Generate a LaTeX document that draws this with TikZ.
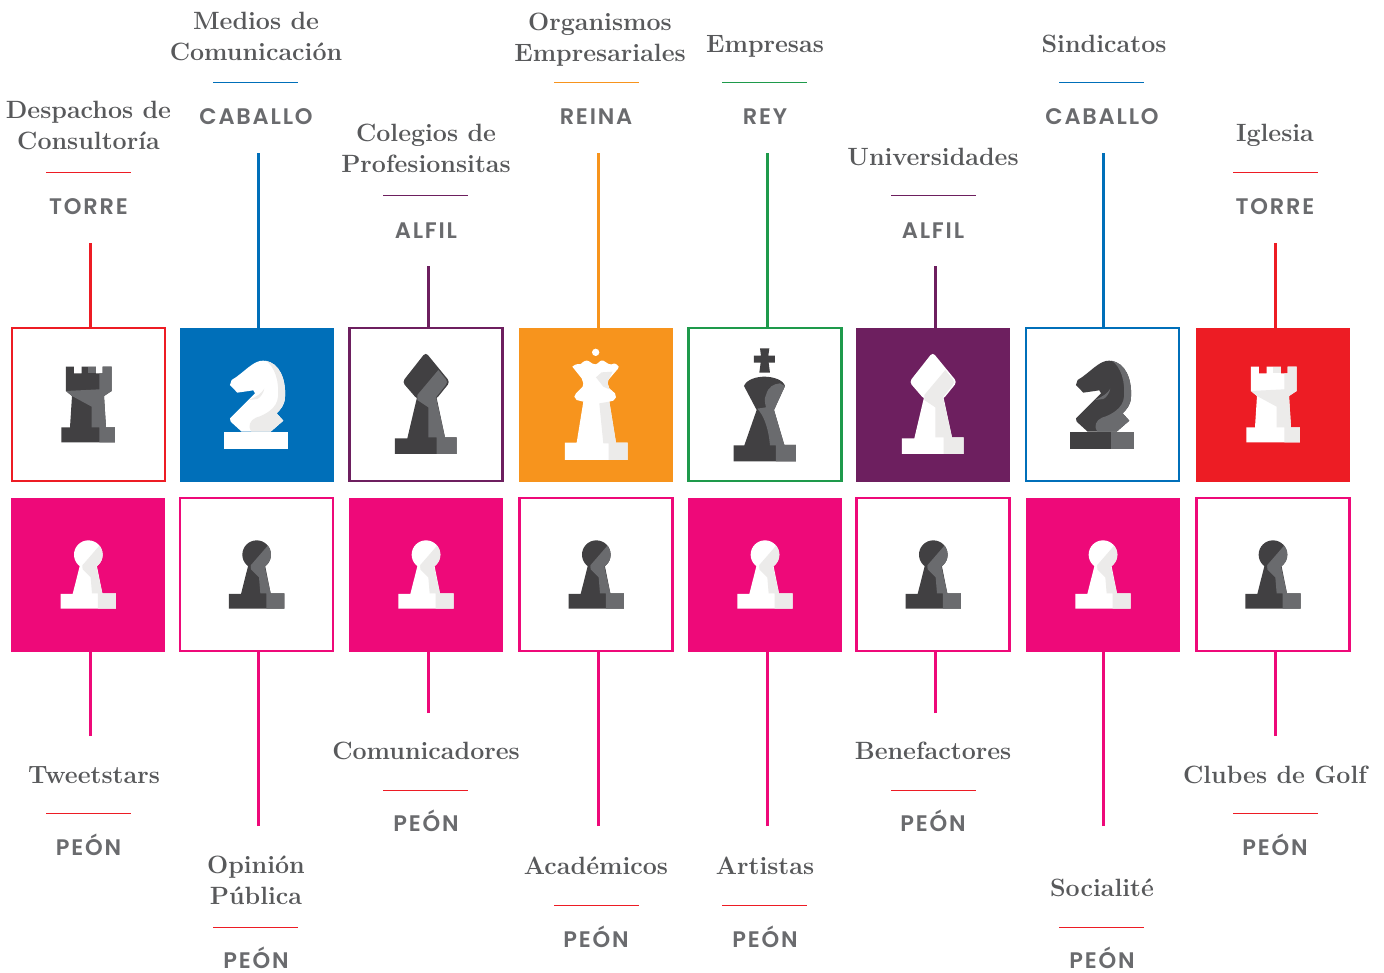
\documentclass[tikz,border=0pt]{standalone}
\usepackage{fontspec}
\setsansfont{Poppins}[LetterSpace=8,BoldFont={Poppins SemiBold}]
\definecolor{cred}{HTML}{ED1C24}
\definecolor{cblue}{HTML}{006FB9}
\definecolor{cpurple}{HTML}{6D1F5F}
\definecolor{corange}{HTML}{F7941D}
\definecolor{cgreen}{HTML}{1E9A4B}
\definecolor{cpink}{HTML}{EE0979}
\definecolor{dkmain}{HTML}{414042}
\definecolor{dkshade}{HTML}{6A6B6E}
\definecolor{wtmain}{HTML}{FFFFFF}
\definecolor{wtshade}{HTML}{ECEBEA}
\definecolor{titlegray}{HTML}{58595B}
\definecolor{rolegray}{HTML}{6A6B6E}
\tikzset{
  x=1pt,y=-1pt,
  outlinebox/.style={draw=#1,line width=2.4pt,fill=white,minimum size=153pt,inner sep=0pt},
  solidbox/.style={fill=#1,minimum size=154pt,inner sep=0pt},
  conn/.style={draw=#1,line width=2.6pt},
  rule/.style={draw=#1,line width=0.9pt},
  titletext/.style={font=\bfseries\fontsize{25}{31}\selectfont,text=titlegray,align=center,inner sep=0pt},
  roletext/.style={anchor=base,font=\sffamily\bfseries\fontsize{22.5}{24}\selectfont,text=rolegray,inner sep=0pt},
  piece/.style={x=.33333pt,y=-.33333pt,shift={#1}}
}
\newcommand\rookpiece[4]{\begin{scope}[piece={(#1,#2)}]
\fill[#3] (198,170)--(222,170)--(222,190)--(245,190)--(245,170)--(288,170)--(288,190)--(308,190)--(308,170)--(335,170)--(335,243)--(312,258)--(318,352)--(345,352)--(345,397)--(184,397)--(184,352)--(210,352)--(216,258)--(198,243)--cycle;
\fill[#4] (265,170)--(288,170)--(288,190)--(265,190)--cycle;
\fill[#4] (298,190)--(308,190)--(308,170)--(335,170)--(335,243)--(312,258)--(318,352)--(345,352)--(345,397)--(298,397)--(298,352)--(275,352)--(275,290)--(216,258)--(198,243)--(298,238)--cycle;
\end{scope}}
% #5 colour of the right part of the base
\newcommand\knightpiece[5]{\begin{scope}[piece={(#1,#2)}]
\fill[#3] (673,365)--(863,365)--(863,416)--(673,416)--cycle;
\fill[#5] (794,365)--(863,365)--(863,416)--(794,416)--cycle;
\fill[#3] (695,210)..controls (730,190) and (760,150) .. (790,152) ..controls (840,155) and (858,210) .. (855,260) ..controls (855,285) and (840,300) .. (830,310) --(850,332)--(812,365)--(725,365)--(692,335)--(690,325)--(765,250)--(760,241)--(712,248)--(690,225)--cycle;
\fill[#4] (797,152) ..controls (825,170) and (838,215) .. (834,260) ..controls (832,295) and (795,315) .. (768,323) ..controls (750,330) and (742,350) .. (754,365) --(812,365)--(850,332)--(830,310)..controls (840,300) and (855,285) .. (855,260) ..controls (858,210) and (840,160) .. (797,152)--cycle;
\fill[#4] (747,270) ..controls (770,260) and (785,250) .. (793,236) ..controls (790,250) and (782,262) .. (772,267)--cycle;
\end{scope}}
\newcommand\bishoppiece[4]{\begin{scope}[piece={(#1,#2)}]
\fill[#3,rounded corners=3.5pt] (257,97)--(330,186)--(288,238)--(232,238)--(187,186)--cycle;
\fill[#3] (288,225)--(315,352)--(350,352)--(350,402)--(165,402)--(165,355)--(202,355)--(232,228)--cycle;
\fill[#4] (295,150)--(318,178)--(321,186)--(318,194)--(288,232)--(315,352)--(350,352)--(350,402)--(290,402)--(290,352)--(265,352)--(265,262)--(232,240)--(232,225)--cycle;
\end{scope}}
\newcommand\queenpiece[4]{\begin{scope}[piece={(#1,#2)}]
\fill[#3] (767,97) circle[radius=11];
\fill[#3] (697,140)..controls (710,128) and (715,135) .. (722,132) ..controls (730,125) and (738,118) .. (747,124) ..controls (755,130) and (760,133) .. (767,133) ..controls (775,132) and (780,118) .. (790,122) ..controls (798,125) and (805,135) .. (815,133) ..controls (825,128) and (830,132) .. (836,140) --(834,146)--(805,180)--(803,190)--(808,205)--(825,220)--(828,232)--(820,242)--(808,245)--(828,368)--(863,368)--(863,420)--(675,420)--(675,368)--(710,368)--(730,245)--(710,240)--(703,230)--(708,220)--(728,200)--(730,190)--(725,175)--cycle;
\fill[#4] (768,172)--(785,157)--(818,155)--(805,180)--(803,190)--(808,208)--(790,200)--cycle;
\fill[#4] (778,250)--(808,245)--(828,368)--(863,368)--(863,420)--(806,420)--(806,370)--(790,370)--cycle;
\end{scope}}
\newcommand\kingpiece[4]{\begin{scope}[piece={(#1,#2)}]
\fill[#3] (240,85)--(268,85)--(265,107)--(285,107)--(285,128)--(266,128)--(270,158)--(238,158)--(242,128)--(222,128)--(222,107)--(243,107)--cycle;
\fill[#3] (192,198) ..controls (200,178) and (230,170) .. (253,170) ..controls (280,170) and (310,180) .. (315,198) --(282,270)--(313,375)--(348,375)--(348,424)--(161,424)--(161,376)--(193,376)--(230,270)--cycle;
\fill[#4] (300,190)--(315,198)--(282,270)--(313,375)--(348,375)--(348,424)--(288,424)--(288,376)--(270,376) ..controls (265,320) and (250,285) .. (232,266) --(258,262) ..controls (255,250) and (252,235) .. (258,225) ..controls (265,200) and (280,192) .. (300,190)--cycle;
\end{scope}}
\newcommand\pawnpiece[4]{\begin{scope}[piece={(#1,#2)}]
\fill[#3] (265,194) circle[radius=43];
\fill[#3] (240,225)--(290,225)--(307,310)--(348,310)--(348,356)--(182,356)--(182,312)--(218,312)--cycle;
\begin{scope}
\clip (300,165)--(320,165)--(320,240)--(248,240)--(248,225)--cycle;
\fill[#4] (265,194) circle[radius=43];
\end{scope}
\fill[#4] (248,225)--(288,225)--(307,310)--(348,310)--(348,356)--(294,356)--(294,310)--(276,310)--(272,262)--(248,238)--cycle;
\end{scope}}
\begin{document}
\begin{tikzpicture}
\useasboundingbox (0,0) rectangle (1384,972);
\fill[white] (0,0) rectangle (1384,972);
% top row boxes
\node[outlinebox=cred] (b1) at (88.2,404.7) {};
\node[solidbox=cblue] (b2) at (257,405) {};
\node[outlinebox=cpurple] (b3) at (425.8,404.7) {};
\node[solidbox=corange] (b4) at (596,405) {};
\node[outlinebox=cgreen] (b5) at (764.8,404.7) {};
\node[solidbox=cpurple] (b6) at (933,405) {};
\node[outlinebox=cblue] (b7) at (1102.3,404.7) {};
\node[solidbox=cred] (b8) at (1273,405) {};
% bottom row boxes
\node[solidbox=cpink] (p1) at (88,575) {};
\node[outlinebox=cpink] (p2) at (256.3,574.7) {};
\node[solidbox=cpink] (p3) at (426,575) {};
\node[outlinebox=cpink] (p4) at (596,574.7) {};
\node[solidbox=cpink] (p5) at (765,575) {};
\node[outlinebox=cpink] (p6) at (933,574.7) {};
\node[solidbox=cpink] (p7) at (1103,575) {};
\node[outlinebox=cpink] (p8) at (1273,574.7) {};
% pieces
\rookpiece{0}{930}{dkmain}{dkshade}
\knightpiece{0}{930}{wtmain}{wtshade}{wtmain}
\bishoppiece{1020}{960}{dkmain}{dkshade}
\queenpiece{1020}{960}{wtmain}{wtshade}
\kingpiece{2040}{960}{dkmain}{dkshade}
\bishoppiece{2541}{960}{wtmain}{wtshade}
\knightpiece{2538}{930}{dkmain}{dkshade}{dkshade}
\rookpiece{3555}{930}{wtmain}{wtshade}
\pawnpiece{0}{1470}{wtmain}{wtshade}
\pawnpiece{505}{1470}{dkmain}{dkshade}
\pawnpiece{1013}{1470}{wtmain}{wtshade}
\pawnpiece{1524}{1470}{dkmain}{dkshade}
\pawnpiece{2030}{1470}{wtmain}{wtshade}
\pawnpiece{2535}{1470}{dkmain}{dkshade}
\pawnpiece{3044}{1470}{wtmain}{wtshade}
\pawnpiece{3554}{1470}{dkmain}{dkshade}
% connector ends
\coordinate (t1) at (90.5,243);
\coordinate (t2) at (258.5,153);
\coordinate (t3) at (428.5,266);
\coordinate (t4) at (598.5,153);
\coordinate (t5) at (767.5,153);
\coordinate (t6) at (935.5,266);
\coordinate (t7) at (1103.5,153);
\coordinate (t8) at (1275.5,243);
\coordinate (u1) at (90.5,736);
\coordinate (u2) at (258.5,826);
\coordinate (u3) at (428.5,713);
\coordinate (u4) at (598.5,826);
\coordinate (u5) at (767.5,826);
\coordinate (u6) at (935.5,713);
\coordinate (u7) at (1103.5,826);
\coordinate (u8) at (1275.5,736);
\draw[conn=cred] (t1) -- (t1 |- b1.north);
\draw[conn=cblue] (t2) -- (t2 |- b2.north);
\draw[conn=cpurple] (t3) -- (t3 |- b3.north);
\draw[conn=corange] (t4) -- (t4 |- b4.north);
\draw[conn=cgreen] (t5) -- (t5 |- b5.north);
\draw[conn=cpurple] (t6) -- (t6 |- b6.north);
\draw[conn=cblue] (t7) -- (t7 |- b7.north);
\draw[conn=cred] (t8) -- (t8 |- b8.north);
\draw[conn=cpink] (u1) -- (u1 |- p1.south);
\draw[conn=cpink] (u2) -- (u2 |- p2.south);
\draw[conn=cpink] (u3) -- (u3 |- p3.south);
\draw[conn=cpink] (u4) -- (u4 |- p4.south);
\draw[conn=cpink] (u5) -- (u5 |- p5.south);
\draw[conn=cpink] (u6) -- (u6 |- p6.south);
\draw[conn=cpink] (u7) -- (u7 |- p7.south);
\draw[conn=cpink] (u8) -- (u8 |- p8.south);
% titles
\node[titletext] (n1) at (88.5,128) {\strut Despachos de\\\strut Consultoría};
\node[titletext] (n2) at (256,38.3) {\strut Medios de\\\strut Comunicación};
\node[titletext] (n3) at (426,151) {\strut Colegios de\\\strut Profesionsitas};
\node[titletext] (n4) at (600,40) {\strut Organismos\\\strut Empresariales};
\node[titletext] (n5) at (765,46.5) {\strut Empresas};
\node[titletext] (n6) at (933,159.5) {\strut Universidades};
\node[titletext] (n7) at (1104,46.5) {\strut Sindicatos};
\node[titletext] (n8) at (1275,135.5) {\strut Iglesia};
\node[titletext] (m1) at (94,777) {\strut Tweetstars};
\node[titletext] (m2) at (256,882.5) {\strut Opinión\\\strut Pública};
\node[titletext] (m3) at (426,753) {\strut Comunicadores};
\node[titletext] (m4) at (596,868.7) {\strut Académicos};
\node[titletext] (m5) at (765,868.7) {\strut Artistas};
\node[titletext] (m6) at (933,753) {\strut Benefactores};
\node[titletext] (m7) at (1102,890.4) {\strut Socialité};
\node[titletext] (m8) at (1275,777.7) {\strut Clubes de Golf};
% rules
\draw[rule=cred] (46,172.5) -- (131,172.5);
\draw[rule=cblue] (213,82.5) -- (298,82.5);
\draw[rule=cpurple] (383,195.5) -- (468,195.5);
\draw[rule=corange] (554,82.5) -- (639,82.5);
\draw[rule=cgreen] (722,82.5) -- (807,82.5);
\draw[rule=cpurple] (891,195.5) -- (976,195.5);
\draw[rule=cblue] (1059,82.5) -- (1144,82.5);
\draw[rule=cred] (1233,172.5) -- (1318,172.5);
\draw[rule=cred] (46,813.5) -- (131,813.5);
\draw[rule=cred] (213,927.5) -- (298,927.5);
\draw[rule=cred] (383,790.5) -- (468,790.5);
\draw[rule=cred] (554,905.5) -- (639,905.5);
\draw[rule=cred] (722,905.5) -- (807,905.5);
\draw[rule=cred] (891,790.5) -- (976,790.5);
\draw[rule=cred] (1059,927.5) -- (1144,927.5);
\draw[rule=cred] (1233,813.5) -- (1318,813.5);
% roles
\node[roletext] (r1) at (88.5,214) {TORRE};
\node[roletext] (r2) at (256,124) {CABALLO};
\node[roletext] (r3) at (426,238) {ALFIL};
\node[roletext] (r4) at (596,124) {REINA};
\node[roletext] (r5) at (765,124) {REY};
\node[roletext] (r6) at (933,238) {ALFIL};
\node[roletext] (r7) at (1102,124) {CABALLO};
\node[roletext] (r8) at (1275,214) {TORRE};
\node[roletext] (s1) at (88.5,855) {PEÓN};
\node[roletext] (s2) at (256,968) {PEÓN};
\node[roletext] (s3) at (426,831) {PEÓN};
\node[roletext] (s4) at (596,947) {PEÓN};
\node[roletext] (s5) at (765,947) {PEÓN};
\node[roletext] (s6) at (933,831) {PEÓN};
\node[roletext] (s7) at (1102,968) {PEÓN};
\node[roletext] (s8) at (1275,855) {PEÓN};
\end{tikzpicture}
\end{document}
